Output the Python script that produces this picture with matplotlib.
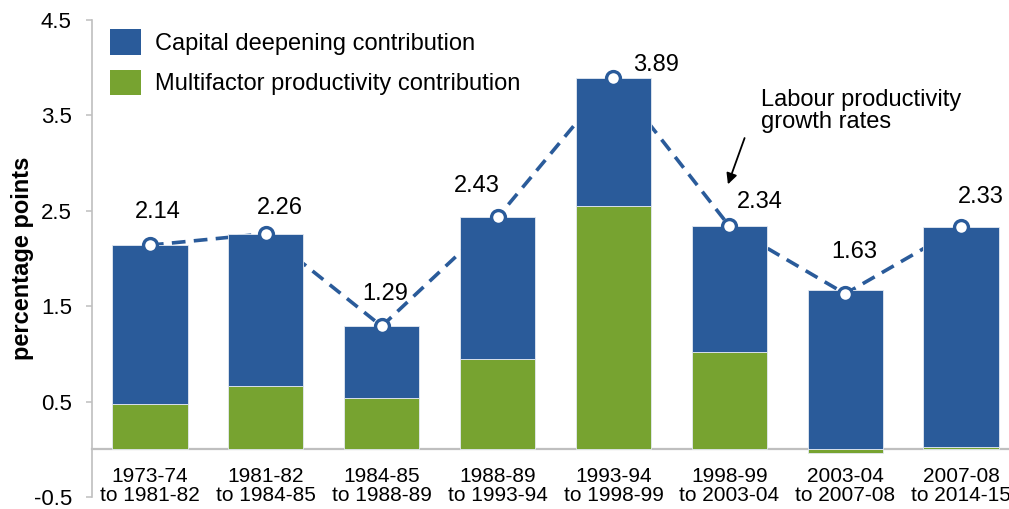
import matplotlib
matplotlib.use("Agg")
import matplotlib.pyplot as plt
import numpy as np

plt.rcParams['font.family'] = ['Liberation Sans', 'DejaVu Sans']

categories = ["1973-74\nto 1981-82", "1981-82\nto 1984-85", "1984-85\nto 1988-89",
              "1988-89\nto 1993-94", "1993-94\nto 1998-99", "1998-99\nto 2003-04",
              "2003-04\nto 2007-08", "2007-08\nto 2014-15"]
capital_deepening = [1.66, 1.60, 0.75, 1.48, 1.34, 1.32, 1.67, 2.31]
multifactor = [0.48, 0.66, 0.54, 0.95, 2.55, 1.02, -0.04, 0.02]
labour_productivity = [2.14, 2.26, 1.29, 2.43, 3.89, 2.34, 1.63, 2.33]
label_offsets_px = [(8, 33), (14, 26), (3, 32), (-21, 31), (43, 13), (30, 24), (9, 42), (20, 30)]

BLUE = "#2A5B9A"
GREEN = "#77A330"
GRAY = "#BFBFBF"

W, H = 1009, 509
fig = plt.figure(figsize=(W / 100, H / 100), dpi=100)
left = 92 / W
right = 1019 / W
bottom = (H - 497) / H
top = (H - 20) / H
ax = fig.add_axes([left, bottom, right - left, top - bottom])

# spines first (repositioning resets tick properties)
for s in ["top", "right"]:
    ax.spines[s].set_visible(False)
ax.spines["left"].set_color(GRAY)
ax.spines["left"].set_linewidth(1.2)
ax.spines["bottom"].set_position(("data", 0))
ax.spines["bottom"].set_color(GRAY)
ax.spines["bottom"].set_linewidth(1.6)
ax.spines["bottom"].set_zorder(1)

x = np.arange(len(categories))
width = 0.65
mfp = np.array(multifactor)
cd = np.array(capital_deepening)
base = np.where(mfp > 0, mfp, 0)
ax.bar(x, mfp, width, color=GREEN, edgecolor="#E4EAF2", linewidth=0.6,
       label="Multifactor productivity contribution", zorder=3)
ax.bar(x, cd, width, bottom=base, color=BLUE, edgecolor="#E4EAF2", linewidth=0.6,
       label="Capital deepening contribution", zorder=3)

# dashed line behind bars, markers on top
ax.plot(x, labour_productivity, color=BLUE, linestyle=(0, (3.8, 2.3)), linewidth=2.6, zorder=2)
ax.plot(x, labour_productivity, linestyle="none", marker="o", markersize=10,
        markerfacecolor="white", markeredgecolor=BLUE, markeredgewidth=2.4, zorder=5)

px2pt = 72 / 100
for xi, v, (dx, dy) in zip(x, labour_productivity, label_offsets_px):
    ax.annotate(f"{v:.2f}", (xi, v), xytext=(dx * px2pt, dy * px2pt), textcoords="offset points",
                ha="center", va="center", fontsize=17, color="black", zorder=6)

ax.set_xlim(-0.5, len(categories) - 0.5)
ax.set_ylim(-0.5, 4.5)
ax.set_yticks([-0.5, 0.5, 1.5, 2.5, 3.5, 4.5])
ax.set_yticklabels(["-0.5", "0.5", "1.5", "2.5", "3.5", "4.5"])
ax.tick_params(axis="y", labelsize=16, length=4.5, width=1.1, color=GRAY, pad=10)
ax.set_xticks(x)
ax.set_xticklabels(categories, linespacing=1.0)
ax.tick_params(axis="x", labelsize=15, length=0, pad=13)

ax.set_ylabel("percentage points", fontsize=17, fontweight="bold")
ax.yaxis.set_label_coords(-(92 - 34) / 927, 0.5)

handles, labels = ax.get_legend_handles_labels()
leg = ax.legend(handles[::-1], labels[::-1], loc="upper left",
                bbox_to_anchor=((110 - 92) / 927, (509 - 29 - 12) / 477),
                frameon=False, fontsize=17, handlelength=1.31, handleheight=1.31,
                handletextpad=0.6, labelspacing=0.62, borderaxespad=0, borderpad=0)
for p in leg.get_patches():
    p.set_edgecolor("none")

ax.annotate("", xy=(4.98, 2.75), xytext=(5.14, 3.29),
            arrowprops=dict(arrowstyle="-|>", color="black", lw=1.3, mutation_scale=16))
ax.text(5.276, 3.775, "Labour productivity\ngrowth rates", fontsize=17, ha="left", va="top",
        linespacing=1.0)

fig.savefig("out.png", dpi=100)
